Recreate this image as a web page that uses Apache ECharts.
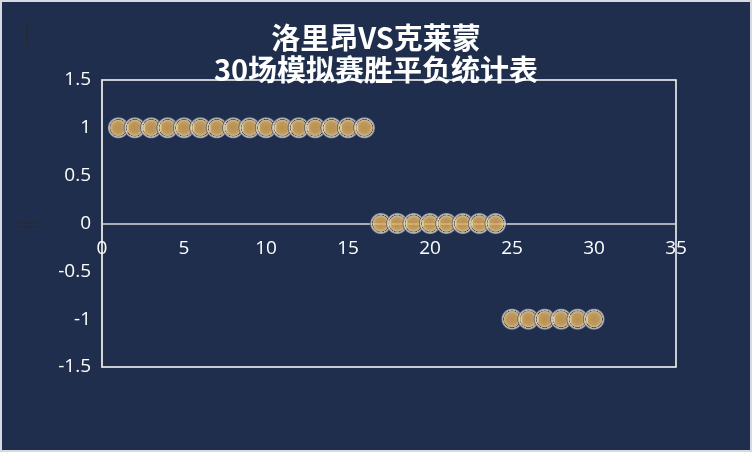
<!DOCTYPE html>
<html><head><meta charset="utf-8">
<script src="https://cdn.jsdelivr.net/npm/echarts@6/dist/echarts.min.js"></script>
<style>
html,body{margin:0;padding:0;background:#ffffff;}
#chart{position:absolute;left:0;top:0;width:748px;height:448px;border:2px solid #d6dae2;background:#1f2e4c;}
</style></head>
<body><div id="chart"></div>
<script>
const titleText = '洛里昂VS克莱蒙\n30场模拟赛胜平负统计表';
const matchNo = [1,2,3,4,5,6,7,8,9,10,11,12,13,14,15,16,17,18,19,20,21,22,23,24,25,26,27,28,29,30];
const results = [1,1,1,1,1,1,1,1,1,1,1,1,1,1,1,1,0,0,0,0,0,0,0,0,-1,-1,-1,-1,-1,-1];
const xTicks = {min:0, max:35, interval:5};
const yTicks = {min:-1.5, max:1.5, interval:0.5};

const chart = echarts.init(document.getElementById('chart'));
const gridTop = 78, gridBottom = 83, plotH = 448 - gridTop - gridBottom;
chart.setOption({
  backgroundColor:'#1f2e4c',
  title:{text:titleText,left:'center',top:15,textStyle:{color:'#ffffff',fontSize:29,fontWeight:'bold',fontFamily:'Noto Sans CJK SC',lineHeight:32}},
  grid:{left:100,right:74,top:gridTop,bottom:gridBottom,show:true,borderColor:'#ffffff',borderWidth:1.5,backgroundColor:'transparent'},
  xAxis:{type:'value',min:xTicks.min,max:xTicks.max,interval:xTicks.interval,
    offset:-(plotH*(0 - yTicks.min)/(yTicks.max - yTicks.min)),
    axisLine:{onZero:false,lineStyle:{color:'#d9d9d9',width:1.5}},axisTick:{show:false},splitLine:{show:false},
    axisLabel:{color:'#ffffff',fontSize:19,fontFamily:'Open Sans',margin:16}},
  yAxis:{type:'value',min:yTicks.min,max:yTicks.max,interval:yTicks.interval,
    axisLine:{show:true,lineStyle:{color:'#d9d9d9',width:1.5}},axisTick:{show:false},splitLine:{show:false},
    axisLabel:{color:'#ffffff',fontSize:19,fontFamily:'Open Sans',margin:11}},
  series:[{type:'scatter',symbol:'circle',symbolSize:22,
    data:matchNo.map((x,i)=>[x,results[i]]),
    itemStyle:{color:{type:'radial',x:0.5,y:0.5,r:0.5,colorStops:[
      {offset:0,color:'#dfa851'},{offset:0.5,color:'#e6b462'},{offset:0.68,color:'#f6d592'},
      {offset:0.74,color:'#d9a85c'},{offset:0.77,color:'#4a4a4e'},{offset:0.80,color:'#dadada'},
      {offset:0.90,color:'#c4c4c4'},{offset:0.95,color:'#6a6e75'},{offset:1,color:'#2a3650'}]},
      borderWidth:0},
    emphasis:{disabled:true}
  }],
  graphic:[
    {type:'line',shape:{x1:25,y1:20,x2:25,y2:45},style:{stroke:'#2b2b2b',lineWidth:1.5}},
    {type:'line',shape:{x1:15,y1:221,x2:37,y2:221},style:{stroke:'#2b2b2b',lineWidth:1}},
    {type:'line',shape:{x1:15,y1:225,x2:37,y2:225},style:{stroke:'#2b2b2b',lineWidth:1}}
  ]
});
</script></body></html>
